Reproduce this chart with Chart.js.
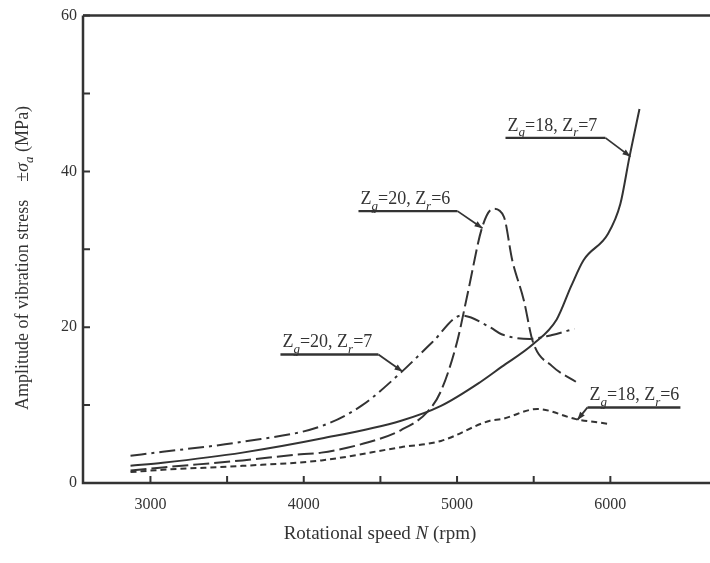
<!DOCTYPE html>
<html>
<head>
<meta charset="utf-8">
<script src="https://cdn.jsdelivr.net/npm/chart.js@4.4.1/dist/chart.umd.min.js"></script>
<style>
  html, body { margin: 0; padding: 0; background: #fff; overflow: hidden; }
  #wrap { width: 710px; height: 563px; }
</style>
</head>
<body>
<div id="wrap"><canvas id="chart" width="710" height="563"></canvas></div>
<script>
// Rotational speed N (rpm) against vibration stress amplitude (MPa), one pair per gear set
const speedZg18Zr7  = [2870, 3080, 3600, 4115, 4635, 4895, 5155, 5290, 5495, 5650, 5745, 5825, 5985, 6065, 6125, 6190];
const stressZg18Zr7 = [2.2, 2.6, 3.9, 5.7, 8.0, 9.9, 13.0, 14.9, 17.8, 21.0, 25.3, 28.6, 32.0, 35.8, 41.9, 48.0];

const speedZg20Zr6  = [2870, 3080, 3600, 3980, 4115, 4415, 4635, 4810, 4895, 5000, 5070, 5165, 5235, 5305, 5360, 5435, 5495, 5620, 5775];
const stressZg20Zr6 = [1.6, 2.0, 2.9, 3.7, 3.9, 5.2, 6.8, 9.2, 11.8, 18.1, 24.4, 32.9, 35.2, 34.2, 28.6, 23.5, 18.1, 15.0, 13.0];

const speedZg20Zr7  = [2870, 3080, 3600, 4115, 4375, 4635, 4840, 5030, 5215, 5290, 5475, 5620, 5765];
const stressZg20Zr7 = [3.5, 4.0, 5.3, 7.3, 9.9, 14.2, 18.1, 21.5, 20.0, 19.1, 18.5, 19.0, 19.8];

const speedZg18Zr6  = [2870, 3080, 3600, 4115, 4635, 4895, 5215, 5290, 5525, 5775, 5985];
const stressZg18Zr6 = [1.4, 1.7, 2.2, 2.9, 4.6, 5.4, 8.0, 8.2, 9.5, 8.2, 7.6];

// Series names: [main letter, first subscript, first value, second subscript, second value]
const seriesNames = [
  ['Z', 'g', '18', 'r', '7'],
  ['Z', 'g', '20', 'r', '6'],
  ['Z', 'g', '20', 'r', '7'],
  ['Z', 'g', '18', 'r', '6']
];

const xTickValues = [3000, 3500, 4000, 4500, 5000, 5500, 6000];
const yTickValues = [0, 10, 20, 30, 40, 50, 60];

const INK = '#333333';
const SERIF = '"Liberation Serif", "DejaVu Serif", serif';

function pairs(xs, ys) { return xs.map((x, i) => ({ x: x, y: ys[i] })); }

function lineSet(xs, ys, dash) {
  return {
    data: pairs(xs, ys),
    showLine: true,
    borderColor: INK,
    borderWidth: 2,
    borderDash: dash,
    pointRadius: 0,
    cubicInterpolationMode: 'monotone',
    fill: false
  };
}

// Call-out labels with an underline and a leader to the curve (in rpm / MPa units)
const callouts = [
  { name: 0, lineFrom: [5316, 44.3], lineTo: [5968, 44.3], tip: [6131, 41.9], leaderFrom: 'end' },
  { name: 1, lineFrom: [4357, 34.9], lineTo: [5003, 34.9], tip: [5166, 32.7], leaderFrom: 'end' },
  { name: 2, lineFrom: [3848, 16.5], lineTo: [4487, 16.5], tip: [4644, 14.3], leaderFrom: 'end' },
  { name: 3, lineFrom: [5851, 9.7],  lineTo: [6457, 9.7],  tip: [5785, 8.1],  leaderFrom: 'start' }
];

function partFont(style, size, subSize) {
  if (style === 's') return 'italic ' + subSize + 'px ' + SERIF;
  return (style === 'i' ? 'italic ' : '') + size + 'px ' + SERIF;
}

function drawParts(ctx, parts, x, y, size, subSize) {
  // parts: [text, style] where style is 'n' normal, 'i' italic, 's' italic subscript
  let cx = x;
  parts.forEach(p => {
    ctx.font = partFont(p[1], size, subSize);
    ctx.fillText(p[0], cx, p[1] === 's' ? y + size * 0.3 : y);
    cx += ctx.measureText(p[0]).width;
  });
  return cx - x;
}

function measureParts(ctx, parts, size, subSize) {
  let w = 0;
  parts.forEach(p => {
    ctx.font = partFont(p[1], size, subSize);
    w += ctx.measureText(p[0]).width;
  });
  return w;
}

const framePlugin = {
  id: 'frame',
  afterDraw(chart) {
    const ctx = chart.ctx;
    const area = chart.chartArea;
    const xs = chart.scales.x, ys = chart.scales.y;
    ctx.save();
    ctx.strokeStyle = INK;
    ctx.fillStyle = INK;
    ctx.lineCap = 'butt';

    // axis lines: left, bottom, top
    ctx.lineWidth = 2.5;
    ctx.beginPath();
    ctx.moveTo(area.left, area.top);
    ctx.lineTo(area.right, area.top);
    ctx.moveTo(area.left, area.top);
    ctx.lineTo(area.left, area.bottom);
    ctx.lineTo(area.right, area.bottom);
    ctx.stroke();

    // inward tick marks
    ctx.lineWidth = 2;
    ctx.beginPath();
    yTickValues.forEach(v => {
      const py = ys.getPixelForValue(v);
      ctx.moveTo(area.left, py);
      ctx.lineTo(area.left + 7, py);
    });
    xTickValues.forEach(v => {
      const px = xs.getPixelForValue(v);
      ctx.moveTo(px, area.bottom);
      ctx.lineTo(px, area.bottom - 7);
    });
    ctx.stroke();

    // call-outs
    ctx.textBaseline = 'alphabetic';
    ctx.textAlign = 'left';
    callouts.forEach(c => {
      const n = seriesNames[c.name];
      const parts = [[n[0], 'n'], [n[1], 's'], ['=' + n[2] + ', ', 'n'], [n[0], 'n'], [n[3], 's'], ['=' + n[4], 'n']];
      const x0 = xs.getPixelForValue(c.lineFrom[0]);
      const x1 = xs.getPixelForValue(c.lineTo[0]);
      const yl = ys.getPixelForValue(c.lineFrom[1]);
      const tx = xs.getPixelForValue(c.tip[0]);
      const ty = ys.getPixelForValue(c.tip[1]);
      drawParts(ctx, parts, x0 + 2, yl - 7, 18, 13);

      ctx.lineWidth = 2.4;
      ctx.beginPath();
      ctx.moveTo(x0, yl);
      ctx.lineTo(x1, yl);
      ctx.stroke();

      const sx = c.leaderFrom === 'end' ? x1 : x0;
      ctx.lineWidth = 1.8;
      ctx.beginPath();
      ctx.moveTo(sx, yl);
      ctx.lineTo(tx, ty);
      ctx.stroke();

      // arrow head
      const ang = Math.atan2(ty - yl, tx - sx);
      const L = 8, W = 3;
      ctx.beginPath();
      ctx.moveTo(tx, ty);
      ctx.lineTo(tx - L * Math.cos(ang) + W * Math.sin(ang), ty - L * Math.sin(ang) - W * Math.cos(ang));
      ctx.lineTo(tx - L * Math.cos(ang) - W * Math.sin(ang), ty - L * Math.sin(ang) + W * Math.cos(ang));
      ctx.closePath();
      ctx.fill();
    });

    // x-axis title
    const xParts = [['Rotational speed ', 'n'], ['N', 'i'], [' (rpm)', 'n']];
    const xw = measureParts(ctx, xParts, 19, 14);
    drawParts(ctx, xParts, 380 - xw / 2, 539, 19, 14);

    // y-axis title (rotated)
    const yParts = [['Amplitude of vibration stress    \u00B1', 'n'], ['\u03C3', 'i'], ['a', 's'], [' (MPa)', 'n']];
    const yw = measureParts(ctx, yParts, 18, 13);
    ctx.translate(28, 258);
    ctx.rotate(-Math.PI / 2);
    drawParts(ctx, yParts, -yw / 2, 0, 18, 13);
    ctx.restore();
  }
};

new Chart(document.getElementById('chart'), {
  type: 'scatter',
  data: {
    datasets: [
      lineSet(speedZg18Zr7, stressZg18Zr7, []),
      lineSet(speedZg20Zr6, stressZg20Zr6, [16, 5]),
      lineSet(speedZg20Zr7, stressZg20Zr7, [16, 5, 3, 5]),
      lineSet(speedZg18Zr6, stressZg18Zr6, [6, 4])
    ]
  },
  options: {
    responsive: false,
    devicePixelRatio: 1,
    animation: false,
    layout: { padding: { top: 8, right: 0, bottom: 0, left: 0 } },
    plugins: { legend: { display: false }, tooltip: { enabled: false } },
    scales: {
      x: {
        type: 'linear',
        min: 2560,
        max: 6650,
        afterFit(s) { s.height = 80; },
        afterBuildTicks(s) { s.ticks = xTickValues.map(v => ({ value: v })); },
        grid: { display: false, drawTicks: false },
        border: { display: false },
        ticks: {
          padding: 12,
          color: INK,
          font: { family: SERIF, size: 16 },
          maxRotation: 0,
          autoSkip: false,
          callback: v => (v % 1000 === 0 ? String(v) : '')
        }
      },
      y: {
        type: 'linear',
        min: 0,
        max: 60,
        afterFit(s) { s.width = 83; },
        afterBuildTicks(s) { s.ticks = yTickValues.map(v => ({ value: v })); },
        grid: { display: false, drawTicks: false },
        border: { display: false },
        ticks: {
          padding: 6,
          color: INK,
          font: { family: SERIF, size: 16 },
          autoSkip: false,
          callback: v => (v % 20 === 0 ? String(v) : '')
        }
      }
    }
  },
  plugins: [framePlugin]
});
</script>
</body>
</html>
